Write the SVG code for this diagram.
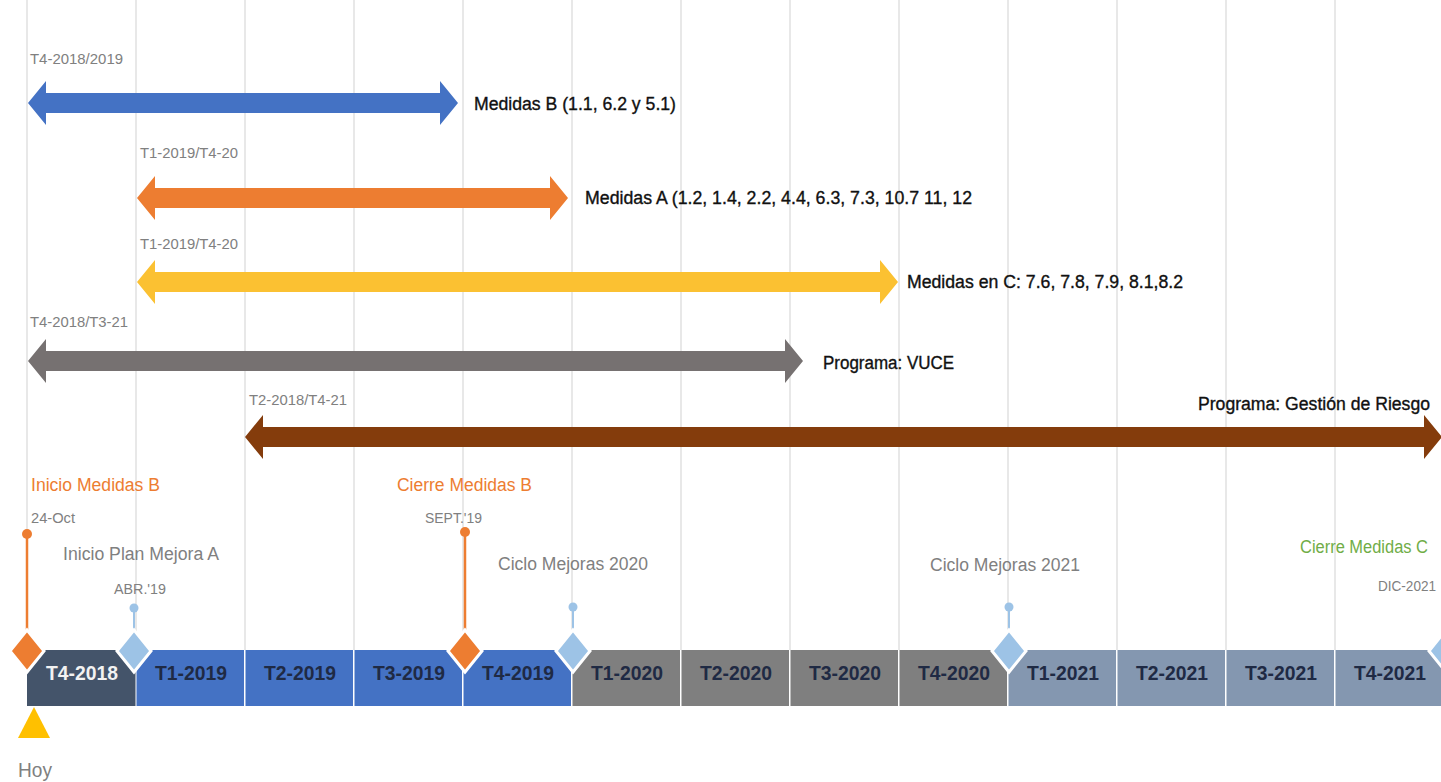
<svg xmlns="http://www.w3.org/2000/svg" width="1441" height="782" viewBox="0 0 1441 782">
<style>
text{font-family:"Liberation Sans Narrow","Liberation Sans",Arial,sans-serif;}
.grid{stroke:#D9D9D9;stroke-width:1.2;}
.rng{font-size:14px;fill:#808080;}
.lbl{font-size:18px;fill:#111;stroke:#111;stroke-width:0.35;}
.seg{font-size:20px;font-weight:bold;fill:#1F2A44;text-anchor:middle;}
.ms{font-size:18px;}
.dt{font-size:14px;fill:#808080;}
.or{fill:#ED7D31;}
.lb{fill:#9DC3E6;}
.dia{stroke:#fff;stroke-width:3;}
</style>
<rect width="1441" height="782" fill="#fff"/>
<g id="grid">
<line class="grid" x1="27" y1="0" x2="27" y2="650"/>
<line class="grid" x1="136" y1="0" x2="136" y2="650"/>
<line class="grid" x1="245" y1="0" x2="245" y2="650"/>
<line class="grid" x1="354" y1="0" x2="354" y2="650"/>
<line class="grid" x1="463" y1="0" x2="463" y2="650"/>
<line class="grid" x1="572" y1="0" x2="572" y2="650"/>
<line class="grid" x1="681" y1="0" x2="681" y2="650"/>
<line class="grid" x1="790" y1="0" x2="790" y2="650"/>
<line class="grid" x1="899" y1="0" x2="899" y2="650"/>
<line class="grid" x1="1008" y1="0" x2="1008" y2="650"/>
<line class="grid" x1="1117" y1="0" x2="1117" y2="650"/>
<line class="grid" x1="1226" y1="0" x2="1226" y2="650"/>
<line class="grid" x1="1335" y1="0" x2="1335" y2="650"/>
</g>
<g id="connectors">
<polygon id="arrow-b" fill="#4472C4" points="28,103 46,81 46,93 440,93 440,81 458,103 440,125 440,113 46,113 46,125"/>
<polygon id="arrow-a" fill="#ED7D31" points="137,198 155,176 155,188 550,188 550,176 568,198 550,220 550,208 155,208 155,220"/>
<polygon id="arrow-c" fill="#FBC132" points="137,282 155,260 155,272 880,272 880,260 898,282 880,304 880,292 155,292 155,304"/>
<polygon id="arrow-vuce" fill="#767171" points="28,361 46,339 46,351 785,351 785,339 803,361 785,383 785,371 46,371 46,383"/>
<polygon id="arrow-riesgo" fill="#843C0C" points="245,437 263,415 263,427 1424,427 1424,415 1442,437 1424,459 1424,447 263,447 263,459"/>
</g>
<g id="range-labels">
<text class="rng" x="30" y="64" textLength="93" lengthAdjust="spacingAndGlyphs">T4-2018/2019</text>
<text class="rng" x="140" y="158" textLength="98" lengthAdjust="spacingAndGlyphs">T1-2019/T4-20</text>
<text class="rng" x="140" y="249" textLength="98" lengthAdjust="spacingAndGlyphs">T1-2019/T4-20</text>
<text class="rng" x="30" y="327" textLength="98" lengthAdjust="spacingAndGlyphs">T4-2018/T3-21</text>
<text class="rng" x="249" y="405" textLength="98" lengthAdjust="spacingAndGlyphs">T2-2018/T4-21</text>
</g>
<g id="arrow-labels">
<text class="lbl" x="474" y="110" textLength="202" lengthAdjust="spacingAndGlyphs">Medidas B (1.1, 6.2 y 5.1)</text>
<text class="lbl" x="585" y="204" textLength="387" lengthAdjust="spacingAndGlyphs">Medidas A (1.2, 1.4, 2.2, 4.4, 6.3, 7.3, 10.7 11, 12</text>
<text class="lbl" x="907" y="288" textLength="276" lengthAdjust="spacingAndGlyphs">Medidas en C: 7.6, 7.8, 7.9, 8.1,8.2</text>
<text class="lbl" x="823" y="369" textLength="131" lengthAdjust="spacingAndGlyphs">Programa: VUCE</text>
<text class="lbl" x="1198" y="410" textLength="232" lengthAdjust="spacingAndGlyphs">Programa: Gestión de Riesgo</text>
</g>
<g id="bar">
<rect x="27" y="650" width="108.5" height="56" fill="#44546A"/>
<rect x="136.5" y="650" width="107.5" height="56" fill="#4472C4"/>
<rect x="245.5" y="650" width="107.5" height="56" fill="#4472C4"/>
<rect x="354.5" y="650" width="107.5" height="56" fill="#4472C4"/>
<rect x="463.5" y="650" width="107.5" height="56" fill="#4472C4"/>
<rect x="572.5" y="650" width="107.5" height="56" fill="#7F7F7F"/>
<rect x="681.5" y="650" width="107.5" height="56" fill="#7F7F7F"/>
<rect x="790.5" y="650" width="107.5" height="56" fill="#7F7F7F"/>
<rect x="899.5" y="650" width="107.5" height="56" fill="#7F7F7F"/>
<rect x="1008.5" y="650" width="107.5" height="56" fill="#8497B0"/>
<rect x="1117.5" y="650" width="107.5" height="56" fill="#8497B0"/>
<rect x="1226.5" y="650" width="107.5" height="56" fill="#8497B0"/>
<rect x="1335.5" y="650" width="106" height="56" fill="#8497B0"/>
<text class="seg" x="82" y="680" style="fill:#F2F2F2" textLength="72" lengthAdjust="spacingAndGlyphs">T4-2018</text>
<text class="seg" x="191" y="680" textLength="72" lengthAdjust="spacingAndGlyphs">T1-2019</text>
<text class="seg" x="300" y="680" textLength="72" lengthAdjust="spacingAndGlyphs">T2-2019</text>
<text class="seg" x="409" y="680" textLength="72" lengthAdjust="spacingAndGlyphs">T3-2019</text>
<text class="seg" x="518" y="680" textLength="72" lengthAdjust="spacingAndGlyphs">T4-2019</text>
<text class="seg" x="627" y="680" textLength="72" lengthAdjust="spacingAndGlyphs">T1-2020</text>
<text class="seg" x="736" y="680" textLength="72" lengthAdjust="spacingAndGlyphs">T2-2020</text>
<text class="seg" x="845" y="680" textLength="72" lengthAdjust="spacingAndGlyphs">T3-2020</text>
<text class="seg" x="954" y="680" textLength="72" lengthAdjust="spacingAndGlyphs">T4-2020</text>
<text class="seg" x="1063" y="680" textLength="72" lengthAdjust="spacingAndGlyphs">T1-2021</text>
<text class="seg" x="1172" y="680" textLength="72" lengthAdjust="spacingAndGlyphs">T2-2021</text>
<text class="seg" x="1281" y="680" textLength="72" lengthAdjust="spacingAndGlyphs">T3-2021</text>
<text class="seg" x="1390" y="680" textLength="72" lengthAdjust="spacingAndGlyphs">T4-2021</text>
</g>
<g id="ms-inicio-b">
<line x1="27" y1="534" x2="27" y2="632" stroke="#ED7D31" stroke-width="2.5"/>
<circle class="or" cx="27" cy="534" r="5"/>
<polygon class="or dia" points="27,630 44,651 27,672 10,651"/>
<text class="ms" x="31" y="491" fill="#ED7D31" textLength="129" lengthAdjust="spacingAndGlyphs">Inicio Medidas B</text>
<text class="dt" x="31" y="523" textLength="44" lengthAdjust="spacingAndGlyphs">24-Oct</text>
</g>
<g id="ms-plan-a">
<line x1="134" y1="608" x2="134" y2="632" stroke="#9DC3E6" stroke-width="2"/>
<circle class="lb" cx="134" cy="608" r="4.5"/>
<polygon class="lb dia" points="134,630 151,651 134,672 117,651"/>
<text class="ms" x="63" y="560" fill="#808080" textLength="156" lengthAdjust="spacingAndGlyphs">Inicio Plan Mejora A</text>
<text class="dt" x="114" y="594" textLength="52" lengthAdjust="spacingAndGlyphs">ABR.'19</text>
</g>
<g id="ms-cierre-b">
<line x1="465" y1="532" x2="465" y2="632" stroke="#ED7D31" stroke-width="2.5"/>
<circle class="or" cx="465" cy="532" r="5"/>
<polygon class="or dia" points="465,630 482,651 465,672 448,651"/>
<text class="ms" x="397" y="491" fill="#ED7D31" textLength="135" lengthAdjust="spacingAndGlyphs">Cierre Medidas B</text>
<text class="dt" x="425" y="523" textLength="57" lengthAdjust="spacingAndGlyphs">SEPT.'19</text>
</g>
<g id="ms-ciclo-2020">
<line x1="573" y1="607" x2="573" y2="632" stroke="#9DC3E6" stroke-width="2"/>
<circle class="lb" cx="573" cy="607" r="4.5"/>
<polygon class="lb dia" points="573,630 590,651 573,672 556,651"/>
<text class="ms" x="498" y="570" fill="#808080" textLength="150" lengthAdjust="spacingAndGlyphs">Ciclo Mejoras 2020</text>
</g>
<g id="ms-ciclo-2021">
<line x1="1009" y1="607" x2="1009" y2="632" stroke="#9DC3E6" stroke-width="2"/>
<circle class="lb" cx="1009" cy="607" r="4.5"/>
<polygon class="lb dia" points="1009,630 1026,651 1009,672 992,651"/>
<text class="ms" x="930" y="571" fill="#808080" textLength="150" lengthAdjust="spacingAndGlyphs">Ciclo Mejoras 2021</text>
</g>
<g id="ms-cierre-c">
<polygon class="lb dia" points="1446,630 1463,651 1446,672 1429,651"/>
<text class="ms" x="1300" y="553" fill="#70AD47" textLength="128" lengthAdjust="spacingAndGlyphs">Cierre Medidas C</text>
<text class="dt" x="1378" y="591" textLength="58" lengthAdjust="spacingAndGlyphs">DIC-2021</text>
</g>
<g id="hoy">
<polygon points="34,707 50,738 18,738" fill="#FFC000"/>
<text x="18" y="777" font-size="21" fill="#808080" textLength="34" lengthAdjust="spacingAndGlyphs">Hoy</text>
</g>
</svg>
